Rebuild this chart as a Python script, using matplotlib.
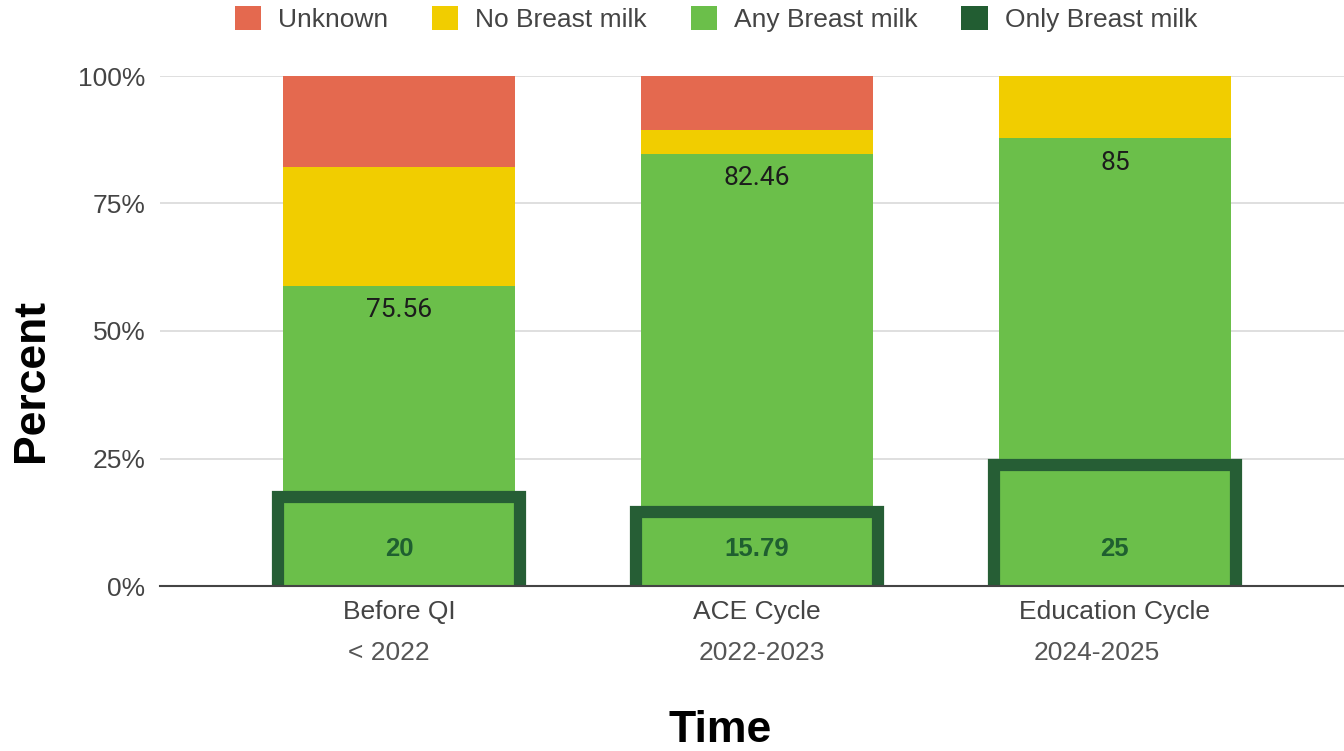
import matplotlib
matplotlib.use("Agg")
import matplotlib.pyplot as plt
from matplotlib.patches import Patch
import numpy as np

categories = ["Before QI", "ACE Cycle", "Education Cycle"]
periods = ["< 2022", "2022-2023", "2024-2025"]
period_shift = [-0.028, 0.014, -0.05]
any_bm = [58.8, 84.7, 87.8]
no_bm = [23.4, 4.7, 12.2]
unknown = [17.8, 10.6, 0.0]
any_labels = ["75.56", "82.46", "85"]
only_bm = [17.5, 14.5, 23.7]
only_labels = ["20", "15.79", "25"]

C_RED = "#E4694F"
C_YEL = "#F1CD00"
C_GRN = "#6BBF4A"
C_DGRN = "#265E35"

plt.rcParams['font.family'] = ['Liberation Sans', 'DejaVu Sans']

fig = plt.figure(figsize=(13.44, 7.51), dpi=100)
ax = fig.add_axes([160/1344, 1-586/751, 1-160/1344, (586-76)/751])

x = np.arange(len(categories))
bw = 0.648
any_arr = np.array(any_bm)
no_arr = np.array(no_bm)
unk_arr = np.array(unknown)

ax.bar(x, any_arr, bw, color=C_GRN, zorder=2)
ax.bar(x, no_arr, bw, bottom=any_arr, color=C_YEL, zorder=2)
ax.bar(x, unk_arr, bw, bottom=any_arr+no_arr, color=C_RED, zorder=2)

# Only breast milk outlined boxes
ow = 0.676
for xi, v in zip(x, only_bm):
    ax.plot([xi-ow/2, xi-ow/2, xi+ow/2, xi+ow/2], [0, v, v, 0], color=C_DGRN,
            lw=8.8, solid_joinstyle='miter', solid_capstyle='butt', zorder=3)

for xi, v, lab in zip(x, any_arr, any_labels):
    ax.annotate(lab, (xi, v), xytext=(0, -17.5), textcoords='offset points',
                ha='center', va='center', fontsize=19, color='#1c1c1c',
                family=['Roboto', 'DejaVu Sans'], zorder=4)
for xi, lab in zip(x, only_labels):
    ax.annotate(lab, (xi, 0), xytext=(0, 26.5), textcoords='offset points',
                ha='center', va='center', fontsize=18.5, color='#1F5F30',
                fontweight='bold', zorder=4)

ax.set_xlim(-0.668, 2.64)
ax.set_ylim(0, 100)
ax.set_yticks([0, 25, 50, 75, 100])
ax.set_yticklabels(["0%", "25%", "50%", "75%", "100%"])
ax.yaxis.grid(True, color='#d9d9d9', lw=1.2, zorder=0)
ax.set_axisbelow(True)
ax.tick_params(axis='y', length=0, pad=10.5, labelsize=19, labelcolor='#444444')
ax.set_xticks(x)
ax.set_xticklabels(categories)
ax.tick_params(axis='x', length=0, pad=10, labelsize=19, labelcolor='#444444')
for s in ['top', 'right', 'left']:
    ax.spines[s].set_visible(False)
ax.spines['bottom'].set_color('#444444')
ax.spines['bottom'].set_linewidth(1.5)
ax.spines['bottom'].set_zorder(5)

for xi, p, sh in zip(x, periods, period_shift):
    ax.annotate(p, (xi + sh, 0), xytext=(0, -48), textcoords='offset points',
                ha='center', va='center', fontsize=19, color='#555555',
                annotation_clip=False)

fig.text(32/1344, 1-381/751, "Percent", rotation=90, ha='center', va='center',
         fontsize=32, fontweight='bold', color='black')
fig.text(720/1344, 1-730/751, "Time", ha='center', va='center',
         fontsize=32, fontweight='bold', color='black')

handles = [Patch(facecolor=C_RED), Patch(facecolor=C_YEL), Patch(facecolor=C_GRN),
           Patch(facecolor="#225D32")]
fig.legend(handles, ["Unknown", "No Breast milk", "Any Breast milk", "Only Breast milk"],
           loc='center', bbox_to_anchor=(716/1344, 1-19/751), ncol=4, frameon=False,
           fontsize=19, handlelength=1.0, handleheight=1.05, handletextpad=0.65,
           columnspacing=1.65, labelcolor='#444444')

fig.savefig("out.png", dpi=100)
